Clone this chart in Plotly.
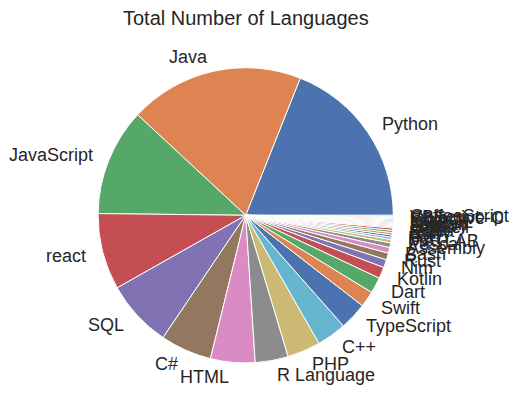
import math
import plotly.graph_objects as go

languages = ["Python", "Java", "JavaScript", "react", "SQL", "C#", "HTML", "R Language",
             "PHP", "C++", "TypeScript", "Swift", "Dart", "Kotlin", "Nim", "Rust", "Bash",
             "Assembly", "Pascal", "MATLAB", "Perl", "Go", "Ruby", "Scala", "Lua", "Haskell",
             "Julia", "Groovy", "Fortran", "COBOL", "Lisp", "Elixir", "Objective-C",
             "VBScript", "CoffeeScript"]
counts = [152, 153, 94, 67, 59, 45, 39, 29, 29, 26, 24, 14, 14, 10, 7, 6, 5,
          4, 3, 2, 2, 2, 2, 2, 1, 1, 1, 1, 1, 1, 1, 1, 1, 1, 1]
title_text = "Total Number of Languages"

palette = ["#4C72B0", "#DD8452", "#55A868", "#C44E52", "#8172B3",
           "#937860", "#DA8BC3", "#8C8C8C", "#CCB974", "#64B5CD"]
colors = [palette[i % len(palette)] for i in range(len(languages))]

W, H = 519, 412
OFF = 8  # page body margin
cx, cy_top, r = 245.7 - OFF, 215.3 - OFF, 147.6
cy = H - cy_top
text_color = "#262626"
font_family = "Liberation Sans, Arial, sans-serif"

total = float(sum(counts))
first_span = 360.0 * counts[0] / total

fig = go.Figure(go.Pie(
    labels=languages, values=counts, sort=False, direction="counterclockwise",
    rotation=90 - first_span,
    marker=dict(colors=colors, line=dict(color="white", width=1)),
    textinfo="none", hoverinfo="label+value", showlegend=False,
    domain=dict(x=[(cx - r) / W, (cx + r) / W], y=[(cy - r) / H, (cy + r) / H]),
))

annotations = []
start = 0.0
for name, v in zip(languages, counts):
    span = 360.0 * v / total
    mid = math.radians(start + span / 2)
    start += span
    x = cx + 1.1 * r * math.cos(mid)
    y = cy + 1.1 * r * math.sin(mid)
    annotations.append(dict(
        x=x / W, y=y / H, xref="paper", yref="paper", text=name, showarrow=False,
        xanchor="left" if math.cos(mid) > 0 else "right", yanchor="middle",
        font=dict(size=18, color=text_color, family=font_family),
    ))
annotations.append(dict(
    x=cx / W, y=(H - 18 + OFF) / H, xref="paper", yref="paper", text=title_text,
    showarrow=False, xanchor="center", yanchor="middle",
    font=dict(size=20, color=text_color, family=font_family),
))

fig.update_layout(
    width=W, height=H, margin=dict(l=0, r=0, t=0, b=0),
    paper_bgcolor="white", plot_bgcolor="white",
    annotations=annotations,
)
fig.write_html("out.html")
